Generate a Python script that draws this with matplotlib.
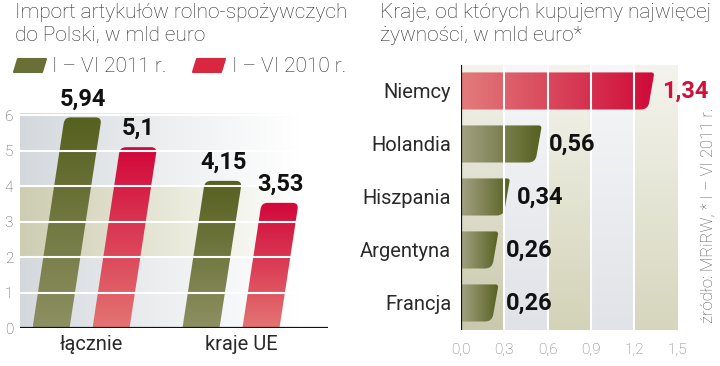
import numpy as np
import matplotlib
matplotlib.use("Agg")
import matplotlib.pyplot as plt
from matplotlib.path import Path
from matplotlib.patches import PathPatch, Polygon
from matplotlib.colors import LinearSegmentedColormap

# left chart: import in mld euro
groups = ["łącznie", "kraje UE"]
h1_2011 = [5.94, 4.15]
h1_2010 = [5.1, 3.53]
left_labels_2011 = ["5,94", "4,15"]
left_labels_2010 = ["5,1", "3,53"]
left_yticks = [0, 1, 2, 3, 4, 5, 6]

# right chart: top countries
countries = ["Niemcy", "Holandia", "Hiszpania", "Argentyna", "Francja"]
country_vals = [1.34, 0.56, 0.34, 0.26, 0.26]
country_labels = ["1,34", "0,56", "0,34", "0,26", "0,26"]
right_xticks = [0.0, 0.3, 0.6, 0.9, 1.2, 1.5]
right_xticklabels = ["0,0", "0,3", "0,6", "0,9", "1,2", "1,5"]

FONT = "Roboto"
TXT = "#2a2a2a"
GREEN_DARK, GREEN_LIGHT = "#56601f", "#8d9062"
RED_DARK, RED_LIGHT = "#d2073a", "#e37472"

green_v = LinearSegmentedColormap.from_list("gv", [GREEN_LIGHT, GREEN_DARK])
red_v = LinearSegmentedColormap.from_list("rv", [RED_LIGHT, RED_DARK])
green_h = LinearSegmentedColormap.from_list("gh", ["#a3a283", GREEN_DARK])
red_h = LinearSegmentedColormap.from_list("rh", ["#e27c7b", "#cf0a38"])


def rounded(pts, radii, sx, sy):
    P = np.array(pts, dtype=float) * [sx, sy]
    verts, codes = [], []
    n = len(P)
    for i in range(n):
        p, prev, nxt = P[i], P[i - 1], P[(i + 1) % n]
        r = radii[i]
        if r == 0:
            verts.append(p)
            codes.append(Path.LINETO)
        else:
            d1 = (prev - p) / np.linalg.norm(prev - p)
            d2 = (nxt - p) / np.linalg.norm(nxt - p)
            verts += [p + d1 * r, p, p + d2 * r]
            codes += [Path.LINETO, Path.CURVE3, Path.CURVE3]
    codes[0] = Path.MOVETO
    verts.append(verts[0])
    codes.append(Path.CLOSEPOLY)
    return Path(np.array(verts) / [sx, sy], codes)


def gradient_patch(ax, path, cmap, extent, horizontal, z):
    patch = PathPatch(path, facecolor="none", edgecolor="none", zorder=z)
    ax.add_patch(patch)
    g = np.linspace(0, 1, 256)
    arr = g.reshape(1, -1) if horizontal else g.reshape(-1, 1)
    im = ax.imshow(arr, extent=extent, origin="lower", aspect="auto",
                   cmap=cmap, zorder=z, interpolation="bilinear")
    im.set_clip_path(patch)


fig = plt.figure(figsize=(7.2, 3.66), dpi=100)

# ---------------- left chart ----------------
axl = fig.add_axes([20 / 720, 38 / 366, 308 / 720, 214.5 / 366])
xl = (-0.407, 1.647)
yl = (0, 6.05)

bg = LinearSegmentedColormap.from_list("bg", ["#d4d8dd", "#eceef0", "#ffffff"])
g = np.linspace(0, 1, 256).reshape(1, -1)
axl.imshow(g, extent=(xl[0], 1.45, 0, 6.05), origin="lower", aspect="auto",
           cmap=bg, zorder=0)
band = LinearSegmentedColormap.from_list("band", ["#cdcdb2", "#e6e6d6", "#ffffff"])
axl.imshow(g, extent=(xl[0], 1.45, 2, 4), origin="lower", aspect="auto",
           cmap=band, zorder=0.5)

x = np.arange(len(groups))
w = 0.247
off = 0.2
shear = 0.036
sx, sy = 150, 35.45
for vals, labs, cmap, dx in [(h1_2011, left_labels_2011, green_v, -off),
                             (h1_2010, left_labels_2010, red_v, off)]:
    for xi, v, lab in zip(x, vals, labs):
        x0 = xi + dx - w / 2
        pts = [(x0, 0), (x0 + w, 0), (x0 + w + shear * v, v), (x0 + shear * v, v)]
        path = rounded(pts, [0, 0, 6, 6], sx, sy)
        gradient_patch(axl, path, cmap, (x0, x0 + w + shear * v, 0, v), False, 2)
        axl.text(xi + dx + shear * v, v + 0.2, lab, ha="center", va="bottom",
                 fontsize=17, fontweight="bold", color="#111111", family=FONT,
                 zorder=6)

for yv in left_yticks[1:]:
    axl.axhline(yv, color="white", lw=1.5, zorder=3)
axl.axhline(0, color="#111111", lw=1.6, zorder=4)

axl.set_xlim(xl)
axl.set_ylim(yl)
axl.set_yticks(left_yticks)
axl.set_xticks(x + 0.07)
axl.set_xticklabels(groups, fontsize=14.5, color=TXT, family=FONT)
axl.tick_params(axis="x", length=0, pad=5)
axl.tick_params(axis="y", length=0, pad=5, labelsize=11, labelcolor="#555555")
for t in axl.get_yticklabels():
    t.set_family(FONT)
    t.set_fontweight("light")
for s in axl.spines.values():
    s.set_visible(False)

# ---------------- right chart ----------------
axr = fig.add_axes([461 / 720, 36 / 366, 216.5 / 720, 265 / 366])
xr = (0, 1.5)
yr = (4.51, -0.49)

bands = [("#f4f4ee", "#c9c9ad"), ("#f6f7f8", "#e0e2e7"), ("#f4f4ee", "#d3d3b8"),
         ("#f6f7f8", "#e1e3e8"), ("#f4f4ee", "#d6d6bd")]
gv = np.linspace(0, 1, 256).reshape(-1, 1)
for i, (top, bot) in enumerate(bands):
    cm = LinearSegmentedColormap.from_list("b%d" % i, [top, bot])
    axr.imshow(gv, extent=(right_xticks[i], right_xticks[i + 1], yr[1], yr[0]),
               origin="lower", aspect="auto", cmap=cm, zorder=0)

bh = 0.7
sx, sy = 144, 53
for i, (c, v, lab) in enumerate(zip(countries, country_vals, country_labels)):
    cmap = red_h if i == 0 else green_h
    y0, y1 = i - bh / 2, i + bh / 2
    pts = [(0, y0), (v, y0), (v - 0.045, y1), (0, y1)]
    path = rounded(pts, [0, 3, 7, 0], sx, sy)
    gradient_patch(axr, path, cmap, (0, v, y1, y0), True, 2)
    axr.text(v + 0.05, i, lab, ha="left", va="center", fontsize=17,
             fontweight="bold", color="#d0103a" if i == 0 else "#111111",
             family=FONT, zorder=6)

for xv in right_xticks[1:-1]:
    axr.axvline(xv, color="white", lw=1.5, zorder=3)
axr.axvline(0, color="#111111", lw=1.6, zorder=4)

axr.set_xlim(xr)
axr.set_ylim(yr)
axr.set_yticks(range(len(countries)))
axr.set_yticklabels(countries, fontsize=14.5, color=TXT, family=FONT)
axr.set_xticks(right_xticks)
axr.set_xticklabels(right_xticklabels, fontsize=11, color="#777777", family=FONT,
                    fontweight="light")
axr.tick_params(axis="y", length=0, pad=7)
axr.tick_params(axis="x", length=0, pad=9)
for s in axr.spines.values():
    s.set_visible(False)

# ---------------- titles, legend, source ----------------
fig.text(15 / 720, 1 - 3 / 366, "Import artykułów rolno-spożywczych\ndo Polski, w mld euro",
         ha="left", va="top", fontsize=15, color="#2b2b2b", family=FONT,
         fontweight="light", linespacing=1.25)
fig.text(380 / 720, 1 - 3 / 366, "Kraje, od których kupujemy najwięcej\nżywności, w mld euro*",
         ha="left", va="top", fontsize=15, color="#2b2b2b", family=FONT,
         fontweight="light", linespacing=1.25)


def swatch(x0, color):
    xs = [x0, x0 + 28, x0 + 32, x0 + 4]
    ys = [72, 72, 59, 59]
    pts = [(a / 720, 1 - b / 366) for a, b in zip(xs, ys)]
    fig.patches.append(Polygon(pts, closed=True, facecolor=color, edgecolor=color,
                               lw=1.5, joinstyle="round", transform=fig.transFigure))


swatch(14, "#697035")
swatch(193, "#d8273f")
fig.text(52 / 720, 1 - 66 / 366, "I – VI 2011 r.", ha="left", va="center",
         fontsize=15, color="#2b2b2b", family=FONT, fontweight="light")
fig.text(232 / 720, 1 - 66 / 366, "I – VI 2010 r.", ha="left", va="center",
         fontsize=15, color="#2b2b2b", family=FONT, fontweight="light")

fig.text(708 / 720, 1 - 215 / 366, "źródło: MRiRW, * I – VI 2011 r.", rotation=90,
         ha="center", va="center", fontsize=12, color="#555555", family=FONT,
         fontweight="light")

fig.savefig("out.png", dpi=100)
